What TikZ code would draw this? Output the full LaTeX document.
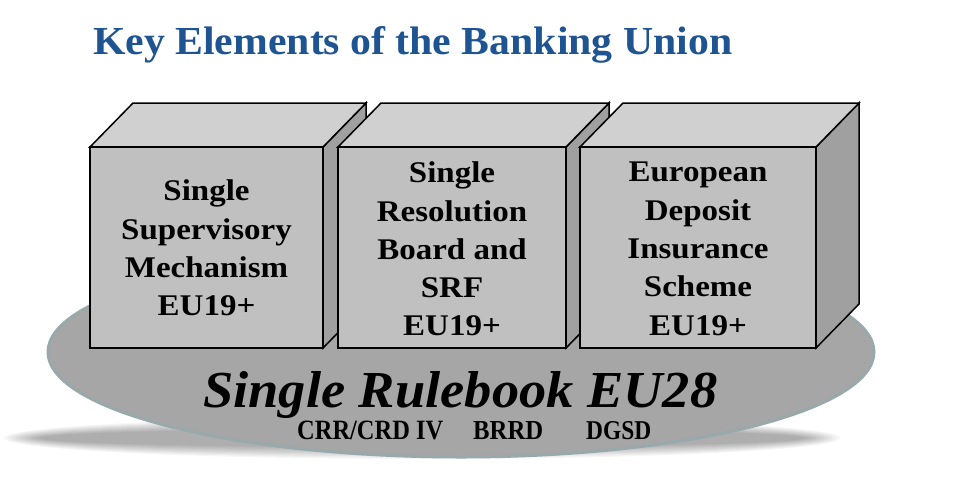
\documentclass[tikz,border=0pt]{standalone}
\usepackage{fontspec}
\setmainfont{Liberation Serif}
\newfontfamily\cubefont{Liberation Serif Bold}[FakeStretch=1.1]
\definecolor{titleblue}{RGB}{31,84,146}
\definecolor{cubefrontc}{RGB}{192,192,192}
\definecolor{cubetopc}{RGB}{208,208,208}
\definecolor{cubesidec}{RGB}{160,160,160}
\definecolor{basec}{RGB}{166,166,166}
\definecolor{rimc}{RGB}{152,168,171}
\tikzset{
  cubefront/.style={fill=cubefrontc, draw=black, line width=1.5pt, line join=miter},
  cubetop/.style={fill=cubetopc, draw=black, line width=1.5pt, line join=miter},
  cubeside/.style={fill=cubesidec, draw=black, line width=1.5pt, line join=miter},
  cubetext/.style={inner sep=0pt, anchor=north, align=center, text=black,
    font=\cubefont\fontsize{30}{38.3}\selectfont},
  plain/.style={inner sep=0pt, anchor=base west}
}
\newcommand\drawcube[2]{%
  \draw[cubeside] (#2,147) -- (#2+43,103) -- (#2+43,304) -- (#2,348) -- cycle;
  \draw[cubetop] (#1,147) -- (#1+43,103) -- (#2+43,103) -- (#2,147) -- cycle;
  \draw[cubefront] (#1,147) rectangle (#2,348);
}
\begin{document}
\begin{tikzpicture}[x=1pt,y=-1pt]
\useasboundingbox (0,0) rectangle (960,490);
\fill[white] (0,0) rectangle (960,490);
% shadow
\foreach \i in {0,...,9}
  \fill[black, opacity=0.035] (422,438) ellipse [x radius={418pt-4pt*\i}, y radius={21pt-1.3pt*\i}];
% base ellipse
\coordinate (basec) at (461,352);
\draw[fill=basec, draw=rimc, line width=3pt] (basec) ellipse [x radius=413pt, y radius=105pt];
% title
\node[plain, text=titleblue] (title) at (93,54)
  {\resizebox{639pt}{28pt}{\bfseries Key Elements of the Banking Union}};
% cubes
\drawcube{90}{323}
\drawcube{338}{566}
\drawcube{580}{816}
\node[cubetext] (ssm) at (206.5,179.7) {Single\\Supervisory\\Mechanism\\EU19+};
\node[cubetext] (srb) at (452,161.7) {Single\\Resolution\\Board and\\SRF\\EU19+};
\node[cubetext] (edis) at (698,162) {European\\Deposit\\Insurance\\Scheme\\EU19+};
% rulebook
\node[plain] (rule) at (203,407)
  {\resizebox{514pt}{36pt}{\bfseries\itshape Single Rulebook EU28}};
\node[plain] (crr) at (297,439) {\resizebox{146pt}{18.5pt}{\bfseries CRR/CRD IV}};
\node[plain] (brrd) at (473,439) {\resizebox{70pt}{18pt}{\bfseries BRRD}};
\node[plain] (dgsd) at (586,439) {\resizebox{65pt}{18pt}{\bfseries DGSD}};
\end{tikzpicture}
\end{document}
